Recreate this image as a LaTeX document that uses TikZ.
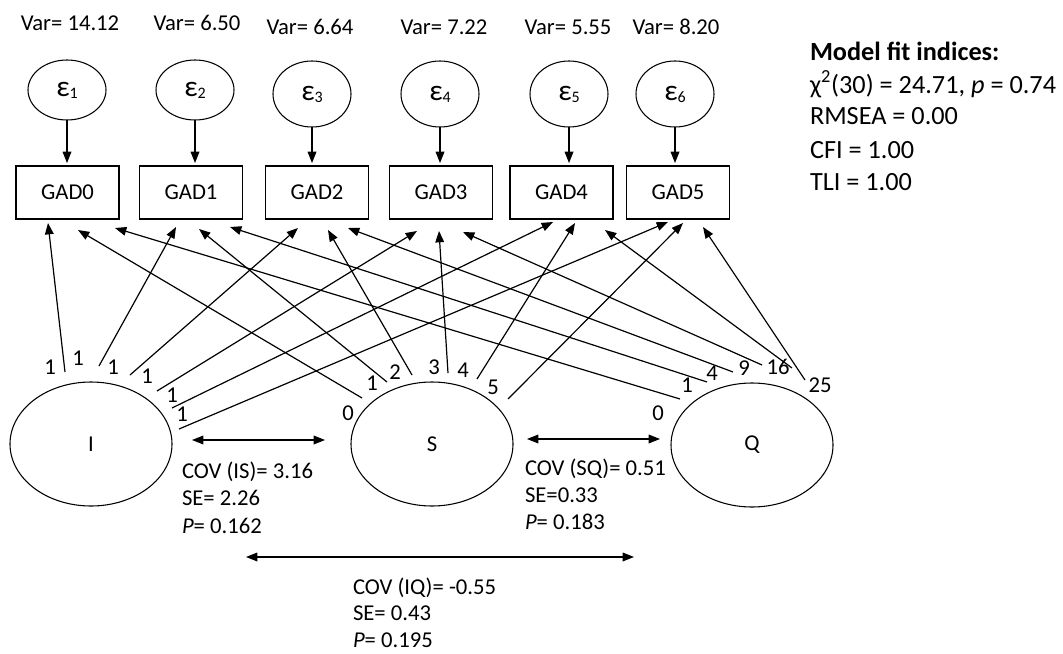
\documentclass[tikz,border=0pt]{standalone}
\usepackage{fontspec}
\setmainfont{Carlito}
\usetikzlibrary{arrows.meta,calc,shapes.geometric}
\newcommand{\eps}[1]{ε\raisebox{-1.5pt}{\fontsize{12}{12}\selectfont #1}}
\begin{document}
\begin{tikzpicture}[x=0.75pt,y=-0.75pt,
  every node/.style={inner sep=0pt,outer sep=0pt,text=black},
  txt/.style={font=\fontsize{17}{20}\selectfont},
  fittxt/.style={font=\fontsize{19.7}{24}\selectfont,anchor=base west},
  errnode/.style={draw,ellipse,line width=0.8pt,minimum width=58.5pt,minimum height=#1,font=\fontsize{22}{26}\selectfont},
  gadbox/.style={draw,rectangle,line width=0.8pt,minimum width=77.25pt,minimum height=39.75pt,txt},
  latent/.style={draw,ellipse,line width=0.8pt,minimum width=121.5pt,minimum height=93pt,txt},
  loadarrow/.style={line width=0.9pt,-{Triangle[length=8.5pt,width=6.5pt]}},
  covarrow/.style={line width=0.9pt,{Triangle[length=8.5pt,width=6.5pt]}-{Triangle[length=8.5pt,width=6.5pt]}},
]
\useasboundingbox[fill=white] (0,0) rectangle (1063,653);

% variance labels
\node[txt,anchor=base] (v1) at (70,30) {Var= 14.12};
\node[txt,anchor=base] (v2) at (197,30) {Var= 6.50};
\node[txt,anchor=base] (v3) at (310,34) {Var= 6.64};
\node[txt,anchor=base] (v4) at (444,34) {Var= 7.22};
\node[txt,anchor=base] (v5) at (568,34) {Var= 5.55};
\node[txt,anchor=base] (v6) at (676,34) {Var= 8.20};

% error terms
\node[errnode=45pt] (e1) at (67,90) {\eps{1}};
\node[errnode=45pt] (e2) at (195,90) {\eps{2}};
\node[errnode=49.5pt] (e3) at (312,94) {\eps{3}};
\node[errnode=49.5pt] (e4) at (440,94) {\eps{4}};
\node[errnode=49.5pt] (e5) at (569,94) {\eps{5}};
\node[errnode=49.5pt] (e6) at (675,94) {\eps{6}};

% observed variables
\node[gadbox] (g0) at (67.5,192.5) {GAD0};
\node[gadbox] (g1) at (191,192.5) {GAD1};
\node[gadbox] (g2) at (317,192.5) {GAD2};
\node[gadbox] (g3) at (441,192.5) {GAD3};
\node[gadbox] (g4) at (561.5,192.5) {GAD4};
\node[gadbox] (g5) at (678,192.5) {GAD5};

\foreach \e/\g in {e1/g0,e2/g1,e3/g2,e4/g3,e5/g4,e6/g5}
  \draw[loadarrow,shorten >=2.2pt] (\e.south) -- (\e.south |- \g.north);

% latent variables
\node[latent] (I) at (91,444) {I};
\node[latent] (S) at (432,444) {S};
\node[latent] (Q) at (752,445) {Q};

% start points of loadings
\coordinate (iA) at (65,372);  \coordinate (iB) at (99,366);  \coordinate (iC) at (130,375);
\coordinate (iD) at (157,391); \coordinate (iE) at (172,408); \coordinate (iF) at (179,429);
\coordinate (sA) at (362,398); \coordinate (sB) at (387,382); \coordinate (sC) at (412,375);
\coordinate (sD) at (448,373); \coordinate (sE) at (477,379); \coordinate (sF) at (508,399);
\coordinate (qA) at (680,399); \coordinate (qB) at (707,382); \coordinate (qC) at (733,372);
\coordinate (qD) at (762,365); \coordinate (qE) at (792,368); \coordinate (qF) at (805,380);
% arrow tips under the boxes
\coordinate (tiA) at (48,223);  \coordinate (tiB) at (176,227); \coordinate (tiC) at (298,228);
\coordinate (tiD) at (417,231); \coordinate (tiE) at (553,222); \coordinate (tiF) at (668,222);
\coordinate (tsA) at (78,230);  \coordinate (tsB) at (199,229); \coordinate (tsC) at (328,230);
\coordinate (tsD) at (439,231); \coordinate (tsE) at (575,223); \coordinate (tsF) at (683,223);
\coordinate (tqA) at (115,228); \coordinate (tqB) at (230,227); \coordinate (tqC) at (348,228);
\coordinate (tqD) at (463,232); \coordinate (tqE) at (605,230); \coordinate (tqF) at (703,227);

\foreach \l in {i,s,q}
  \foreach \k in {A,B,C,D,E,F}
    \draw[loadarrow] (\l\k) -- (t\l\k);

% loading labels
\node[txt] (liA) at (50,367) {1};
\node[txt] (liB) at (78,358) {1};
\node[txt] (liC) at (113,367) {1};
\node[txt] (liD) at (147,376) {1};
\node[txt] (liE) at (172,395) {1};
\node[txt] (liF) at (182,414) {1};
\node[txt] (lsA) at (348,413) {0};
\node[txt] (lsB) at (372,383) {1};
\node[txt] (lsC) at (395,372) {2};
\node[txt] (lsD) at (434,367) {3};
\node[txt] (lsE) at (463,370) {4};
\node[txt] (lsF) at (493,387) {5};
\node[txt] (lqA) at (658,413) {0};
\node[txt] (lqB) at (687,385) {1};
\node[txt] (lqC) at (712,373) {4};
\node[txt] (lqD) at (744,368) {9};
\node[txt] (lqE) at (778,367) {16};
\node[txt] (lqF) at (820,385) {25};

% covariances
\draw[covarrow] ($(I.east)+(20,-4)$) -- ($(S.west)+(-26,-4)$);
\draw[covarrow] ($(S.east)+(14,-5)$) -- ($(Q.west)+(-11,-6)$);
\coordinate (iq1) at (246,557);
\coordinate (iq2) at (634,557);
\draw[covarrow] (iq1) -- (iq2);

\node[txt,anchor=base west] (c1a) at (182,478) {COV (IS)= 3.16};
\node[txt,anchor=base west] (c1b) at (182,505) {SE= 2.26};
\node[txt,anchor=base west] (c1c) at (182,533) {\textit{P}= 0.162};
\node[txt,anchor=base west] (c2a) at (525,475) {COV (SQ)= 0.51};
\node[txt,anchor=base west] (c2b) at (525,502) {SE=0.33};
\node[txt,anchor=base west] (c2c) at (525,529) {\textit{P}= 0.183};
\node[txt,anchor=base west] (c3a) at (353,594) {COV (IQ)= -0.55};
\node[txt,anchor=base west] (c3b) at (353,620) {SE= 0.43};
\node[txt,anchor=base west] (c3c) at (353,647) {\textit{P}= 0.195};

% model fit
\node[fittxt] (f1) at (810,60) {\textbf{Model fit indices:}};
\node[fittxt] (f2) at (810,93) {χ\textsuperscript{2}(30) = 24.71, \textit{p} = 0.74};
\node[fittxt] (f3) at (810,124) {RMSEA = 0.00};
\node[fittxt] (f4) at (810,158) {CFI = 1.00};
\node[fittxt] (f5) at (810,190) {TLI = 1.00};
\end{tikzpicture}
\end{document}
